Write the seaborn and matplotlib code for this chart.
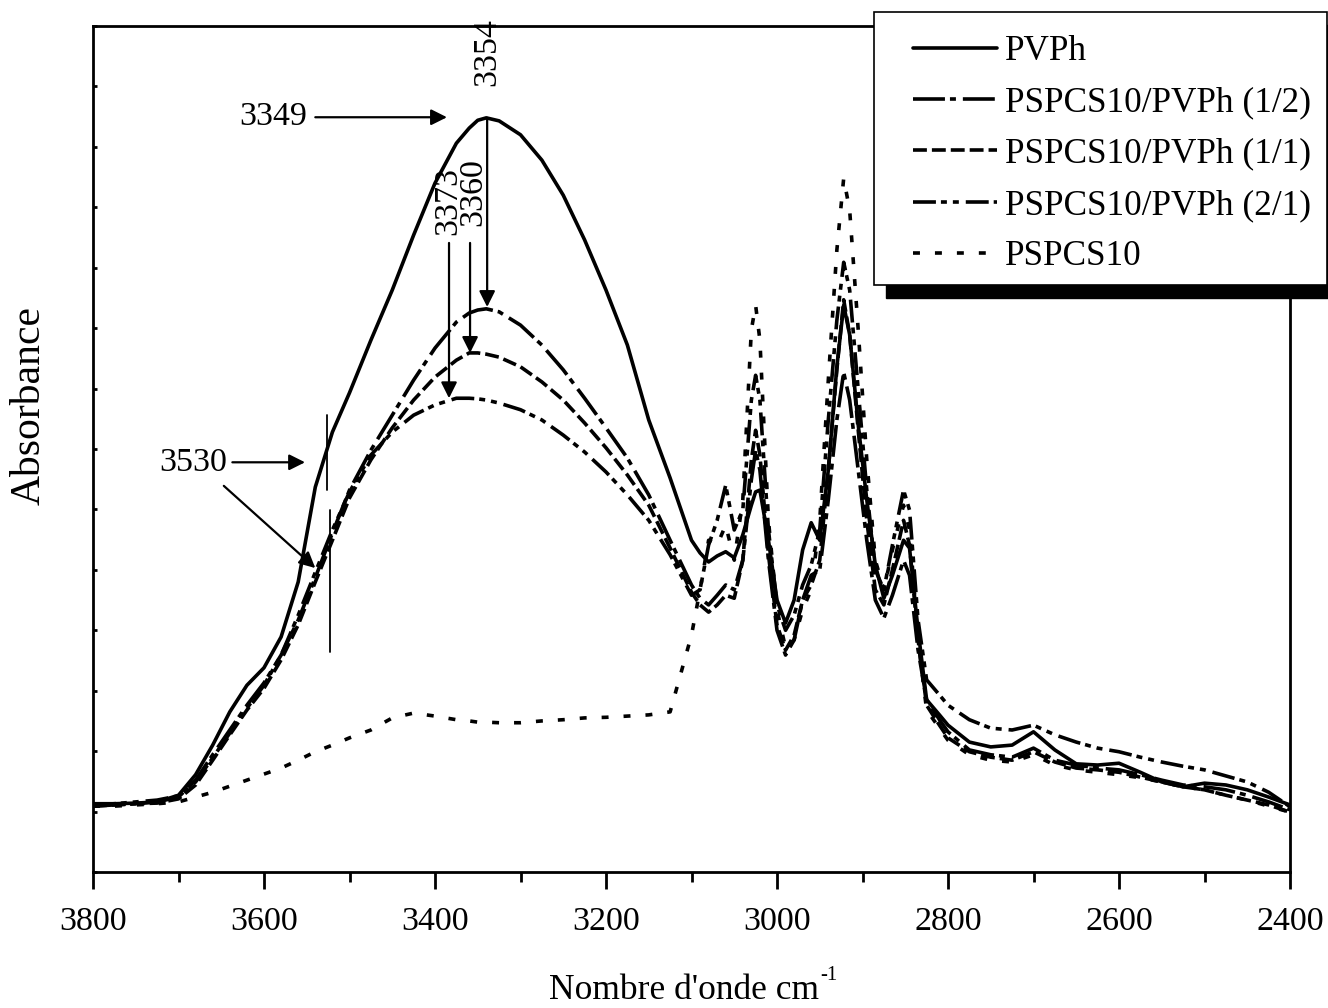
import numpy as np
import pandas as pd
import matplotlib
matplotlib.use("Agg")
import matplotlib.pyplot as plt
import seaborn as sns
from matplotlib.lines import Line2D
from matplotlib.patches import Rectangle

# ---------------- data (absorbance in arbitrary units) ----------------
wavenumber = [3800, 3775, 3750, 3725, 3700, 3680, 3660, 3640, 3620, 3600,
              3580, 3560, 3540, 3520, 3500, 3475, 3450, 3425, 3400, 3375,
              3360, 3350, 3340, 3325, 3300, 3275, 3250, 3225, 3200, 3175,
              3150, 3125, 3100, 3090, 3080, 3070, 3060, 3050, 3040, 3030,
              3025, 3020, 3010, 3000, 2990, 2980, 2970, 2960, 2950, 2940,
              2930, 2922, 2915, 2905, 2895, 2885, 2875, 2865, 2852, 2845,
              2835, 2825, 2810, 2800, 2775, 2750, 2725, 2700, 2675, 2650,
              2625, 2600, 2575, 2550, 2525, 2500, 2475, 2450, 2425, 2400]

pvph = [11.3, 11.3, 11.4, 11.6, 12.7, 16.1, 21.0, 26.5, 30.9, 33.8,
        38.9, 48.0, 63.7, 72.8, 79.3, 88.0, 96.3, 105.4, 114.0, 120.6,
        123.1, 124.4, 124.8, 124.3, 122.0, 117.8, 112.0, 104.6, 96.3, 87.2,
        74.8, 65.2, 54.9, 52.8, 51.3, 52.3, 53.0, 52.0, 55.8, 60.7,
        62.9, 63.2, 54.9, 45.0, 41.2, 45.0, 53.3, 57.8, 54.9, 66.5,
        83.6, 93.8, 88.9, 74.0, 61.6, 50.8, 45.3, 49.1, 54.9, 53.6,
        40.0, 28.5, 26.0, 24.3, 21.5, 20.7, 21.0, 23.2, 20.2, 17.9,
        17.7, 18.0, 16.5, 14.9, 14.1, 14.7, 14.4, 13.6, 12.4, 11.1]

blend_1_2 = [10.9, 11.1, 11.3, 11.6, 12.4, 15.2, 19.4, 23.5, 27.6, 31.3,
             35.9, 41.7, 48.7, 56.1, 63.2, 69.8, 75.6, 81.4, 86.7, 91.0,
             92.5, 93.0, 93.2, 92.7, 90.5, 87.2, 83.1, 78.4, 73.5, 68.5,
             62.4, 54.9, 47.5, 45.3, 44.2, 45.8, 47.5, 46.7, 51.6, 64.9,
             69.8, 66.5, 51.6, 40.0, 35.9, 38.4, 45.0, 49.1, 50.0, 61.6,
             74.8, 82.7, 78.1, 66.5, 54.9, 45.0, 42.0, 45.8, 51.6, 49.1,
             36.7, 28.5, 25.2, 23.2, 20.2, 19.4, 19.0, 20.5, 18.5, 17.7,
             17.2, 16.9, 16.1, 15.2, 14.4, 14.1, 13.6, 12.7, 11.6, 10.3]

blend_1_1 = [10.9, 11.1, 11.3, 11.4, 12.1, 14.4, 18.5, 22.7, 26.8, 30.4,
             35.1, 40.9, 48.0, 54.9, 61.9, 68.2, 73.5, 78.1, 81.9, 84.7,
             85.9, 85.9, 85.7, 85.2, 83.6, 81.1, 78.1, 74.3, 70.2, 65.7,
             60.7, 53.6, 46.3, 44.2, 43.0, 44.2, 45.8, 45.3, 51.6, 68.2,
             73.1, 69.0, 52.5, 40.9, 36.7, 39.2, 45.0, 47.5, 51.6, 66.5,
             83.1, 94.7, 88.9, 73.1, 58.2, 46.7, 44.2, 50.0, 58.2, 54.1,
             38.4, 27.6, 24.3, 22.2, 19.9, 19.0, 18.5, 19.9, 18.2, 17.2,
             16.9, 16.5, 15.7, 14.9, 14.1, 13.6, 12.7, 11.9, 11.1, 9.9]

blend_2_1 = [11.1, 11.3, 11.6, 11.9, 12.6, 14.9, 18.9, 23.0, 27.1, 30.9,
             35.9, 42.5, 49.6, 56.6, 62.9, 69.0, 72.8, 75.6, 77.3, 78.4,
             78.4, 78.3, 78.1, 77.6, 76.5, 74.8, 72.3, 69.5, 66.2, 62.4,
             58.2, 52.5, 45.8, 46.7, 54.1, 58.2, 64.0, 56.6, 59.9, 78.1,
             82.2, 78.1, 56.6, 44.2, 40.0, 42.5, 47.5, 50.8, 56.6, 74.8,
             91.3, 100.9, 96.3, 79.8, 63.2, 50.0, 46.7, 54.1, 63.2, 59.9,
             41.7, 31.8, 29.3, 27.6, 25.2, 23.8, 23.5, 24.3, 22.7, 21.5,
             20.5, 19.9, 19.0, 18.2, 17.5, 16.9, 15.9, 14.9, 13.2, 10.8]

pspcs10 = [10.9, 10.9, 11.1, 11.3, 11.6, 12.4, 13.2, 14.2, 15.2, 16.2,
           17.2, 18.5, 19.9, 21.0, 22.2, 23.5, 25.5, 26.3, 25.8, 25.2,
           25.0, 24.8, 24.8, 24.7, 24.7, 25.0, 25.2, 25.5, 25.6, 25.8,
           26.0, 26.5, 39.2, 46.7, 54.9, 54.1, 57.4, 51.6, 61.6, 89.7,
           93.8, 88.0, 58.2, 43.4, 37.1, 38.4, 43.4, 46.7, 58.2, 81.4,
           102.9, 114.8, 109.5, 89.7, 68.2, 51.6, 46.7, 53.3, 60.7, 56.6,
           38.4, 26.8, 23.8, 21.8, 19.4, 18.5, 18.2, 19.4, 17.7, 16.9,
           16.5, 16.1, 15.6, 14.9, 14.1, 13.6, 12.7, 11.9, 10.9, 9.9]

sample_labels = ["PVPh", "PSPCS10/PVPh (1/2)", "PSPCS10/PVPh (1/1)",
                 "PSPCS10/PVPh (2/1)", "PSPCS10"]
series = [pvph, blend_1_2, blend_1_1, blend_2_1, pspcs10]

xticks_major = [3800, 3600, 3400, 3200, 3000, 2800, 2600, 2400]

# ---------------- style ----------------
sns.set_theme(style="ticks", rc={
    "axes.edgecolor": "black", "text.color": "black",
    "xtick.color": "black", "ytick.color": "black",
    "axes.labelcolor": "black",
})
plt.rcParams['font.family'] = ['Liberation Serif', 'DejaVu Serif']
plt.rcParams['lines.scale_dashes'] = False

dash_styles = {
    "PVPh": "",
    "PSPCS10/PVPh (1/2)": (23, 3.6, 4.3, 5),
    "PSPCS10/PVPh (1/1)": (10, 3.6),
    "PSPCS10/PVPh (2/1)": (16.5, 3.6, 4.3, 4.3, 4.3, 5),
    "PSPCS10": (5, 10.8),
}

frames = []
for lab, vals in zip(sample_labels, series):
    frames.append(pd.DataFrame({"wavenumber": wavenumber,
                                "absorbance": vals, "sample": lab}))
df = pd.concat(frames, ignore_index=True)

fig = plt.figure(figsize=(13.28, 10.08), dpi=100)
ax = fig.add_axes([93 / 1328, 1 - 872 / 1008, 1197 / 1328, 846 / 1008])

sns.lineplot(data=df, x="wavenumber", y="absorbance", style="sample",
             style_order=sample_labels, dashes=dash_styles, color="black",
             linewidth=2.6, sort=False, estimator=None, legend=False, ax=ax)

ax.set_xlim(3800, 2400)
ax.set_ylim(0, 140)
ax.set_xticks(xticks_major)
ax.set_xticks(np.arange(2500, 3800, 200), minor=True)
ax.set_yticks(np.arange(0, 141, 10))
ax.tick_params(axis="x", which="major", direction="out", length=12, width=2,
               labelsize=24.5, pad=13, bottom=True, top=False)
ax.tick_params(axis="x", which="minor", direction="out", length=7, width=2,
               bottom=True, top=False)
ax.tick_params(axis="y", which="major", direction="in", length=3, width=2,
               left=True, right=False, labelleft=False)
for sp in ax.spines.values():
    sp.set_linewidth(2)
    sp.set_visible(True)

ax.set_xlabel("Nombre d'onde cm", fontsize=25.5, va="top")
ax.xaxis.set_label_coords((684 - 93) / 1197, -0.1205)
ax.annotate("-1", xy=(1.0, 1.0), xycoords=ax.xaxis.label, xytext=(1, 6),
            textcoords="offset points", fontsize=15, ha="left", va="top",
            annotation_clip=False)
ax.set_ylabel("Absorbance", fontsize=30)
ax.yaxis.set_label_coords(-0.037, 0.552)

# ---------------- annotations ----------------
arrow = dict(arrowstyle="-|>", mutation_scale=24, lw=1.6, color="black",
             shrinkA=0, shrinkB=0)
ax.annotate("", xy=(3386, 124.9), xytext=(3540, 124.9), arrowprops=arrow)
ax.text(3550, 124.9, "3349", fontsize=24.5, ha="right", va="center")

ax.annotate("", xy=(3339, 93.5), xytext=(3339, 124.8), arrowprops=arrow)
ax.text(3339, 135.7, "3354", fontsize=24.5, ha="center", va="center", rotation=90)

ax.annotate("", xy=(3383.6, 78.4), xytext=(3383.6, 104.1), arrowprops=arrow)
ax.text(3385, 111.0, "3373", fontsize=24.5, ha="center", va="center",
        rotation=90)

ax.annotate("", xy=(3359, 85.9), xytext=(3359, 104.1), arrowprops=arrow)
ax.text(3355.5, 112.6, "3360", fontsize=24.5, ha="center", va="center",
        rotation=90)

ax.annotate("", xy=(3552, 67.8), xytext=(3637, 67.8), arrowprops=arrow)
ax.text(3643, 67.8, "3530", fontsize=24.5, ha="right", va="center")
ax.annotate("", xy=(3540, 50.3), xytext=(3647, 63.9), arrowprops=arrow)
ax.plot([3526, 3526], [75.6, 63.2], color="black", lw=1.3)
ax.plot([3523, 3523], [59.9, 36.4], color="black", lw=1.3)

# ---------------- legend box with shadow ----------------
shadow = Rectangle((886 / 1328, 1 - 298 / 1008), 453 / 1328, 273 / 1008,
                   transform=fig.transFigure, facecolor="black",
                   edgecolor="black", zorder=3)
box = Rectangle((874 / 1328, 1 - 285 / 1008), 453 / 1328, 273 / 1008,
                transform=fig.transFigure, facecolor="white",
                edgecolor="black", lw=1.2, zorder=4)
fig.add_artist(shadow)
fig.add_artist(box)

handles = [Line2D([0], [0], color="black", lw=2.6,
                  linestyle=((0, dash_styles[l]) if dash_styles[l] else "-"))
           for l in sample_labels]
leg = fig.legend(handles, sample_labels, loc="upper left",
                 bbox_to_anchor=(913 / 1328, 1 - 35 / 1008),
                 frameon=False, fontsize=25.4, handlelength=2.38,
                 handletextpad=0.22, labelspacing=0.52, borderpad=0,
                 borderaxespad=0)
leg.set_zorder(5)

fig.savefig("out.png", dpi=100)
